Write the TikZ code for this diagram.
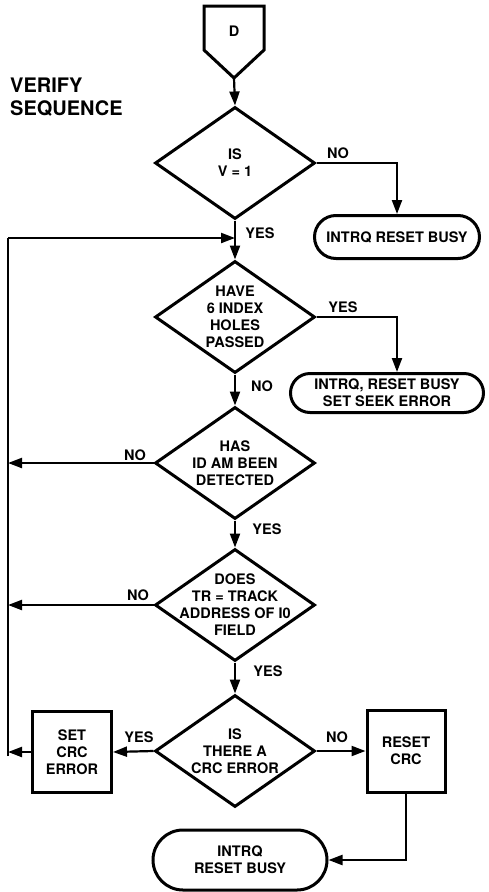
\documentclass[tikz,border=0pt]{standalone}
\usepackage{fontspec}
\setmainfont{TeX Gyre Heros}
\usetikzlibrary{shapes.geometric,shapes.misc,arrows.meta}

\begin{document}
\begin{tikzpicture}[x=1pt,y=-1pt,
    every node/.style={font=\bfseries\fontsize{14.5}{17}\selectfont},
    box/.style={line width=3pt,line join=miter},
    decision/.style={draw,box,diamond,inner sep=-40pt,minimum width=160pt,minimum height=112pt,align=center},
    terminal/.style={draw,box,rounded rectangle,inner sep=0pt,align=center},
    process/.style={draw,box,rectangle,inner sep=0pt,align=center},
    flow/.style={line width=2.2pt,-{Triangle[length=14pt,width=10pt]}},
    wire/.style={line width=2.2pt}]
    \useasboundingbox (0,0) rectangle (488,892);

    \node (D) at (234,31) {D};
    \draw[box] (204,6) -- (264,6) -- (264,50) -- (234,78) -- (204,50) -- cycle;
    \coordinate (dtip) at (234,78);
    \node[anchor=north west,align=left,inner sep=0pt,font=\bfseries\fontsize{20}{23}\selectfont] (title) at (10,78) {VERIFY\\SEQUENCE};

    \node[decision] (isv) at (235,163) {IS\\V = 1};
    \node[terminal,minimum width=165pt,minimum height=43pt] (busy) at (397,237) {INTRQ RESET BUSY};
    \node[decision] (holes) at (235,317) {HAVE\\6 INDEX\\HOLES\\PASSED};
    \node[terminal,minimum width=193pt,minimum height=39pt] (seek) at (387,393) {INTRQ, RESET BUSY\\SET SEEK ERROR};
    \node[decision] (idam) at (235,463) {HAS\\ID AM BEEN\\DETECTED};
    \node[decision] (track) at (235,605) {DOES\\TR = TRACK\\ADDRESS OF I0\\FIELD};
    \node[decision] (crc) at (235,751) {IS\\THERE A\\CRC ERROR};
    \node[process,minimum width=79pt,minimum height=81pt] (setcrc) at (72,752) {SET\\CRC\\ERROR};
    \node[process,minimum width=78pt,minimum height=82pt] (resetcrc) at (406,751) {RESET\\CRC};
    \node[terminal,minimum width=174pt,minimum height=60pt] (done) at (240,860) {INTRQ\\RESET BUSY};

    \node (no1) at (338,153) {NO};
    \node (yes1) at (260,233) {YES};
    \node (yes2) at (343,307) {YES};
    \node (no2) at (262,386) {NO};
    \node (no3) at (135,455) {NO};
    \node (yes3) at (267,529) {YES};
    \node (no4) at (138,595) {NO};
    \node (yes4) at (268,671) {YES};
    \node (yes5) at (139,737) {YES};
    \node (no5) at (337,737) {NO};

    \coordinate (looptop) at (8,238);
    \coordinate (loopbot) at (8,752);
    \coordinate (join) at (235,238);

    \draw[flow] (dtip) -- (isv.north);
    \draw[flow] (isv.east) -| (busy.north);
    \draw[flow] (isv.south) -- (holes.north);
    \draw[wire] (8,756) -- (looptop);
    \draw[flow] (looptop) -- (join);
    \draw[flow] (holes.east) -| (seek.north -| busy.north);
    \draw[flow] (holes.south) -- (idam.north);
    \draw[flow] (idam.west) -- (idam.west -| looptop);
    \draw[flow] (idam.south) -- (track.north);
    \draw[flow] (track.west) -- (track.west -| looptop);
    \draw[flow] (track.south) -- (crc.north);
    \draw[flow] (crc.west) -- (setcrc.east);
    \draw[flow] (setcrc.west) -- (loopbot);
    \draw[flow] (crc.east) -- (resetcrc.west);
    \draw[flow] (resetcrc.south) |- (done.east);
\end{tikzpicture}
\end{document}
